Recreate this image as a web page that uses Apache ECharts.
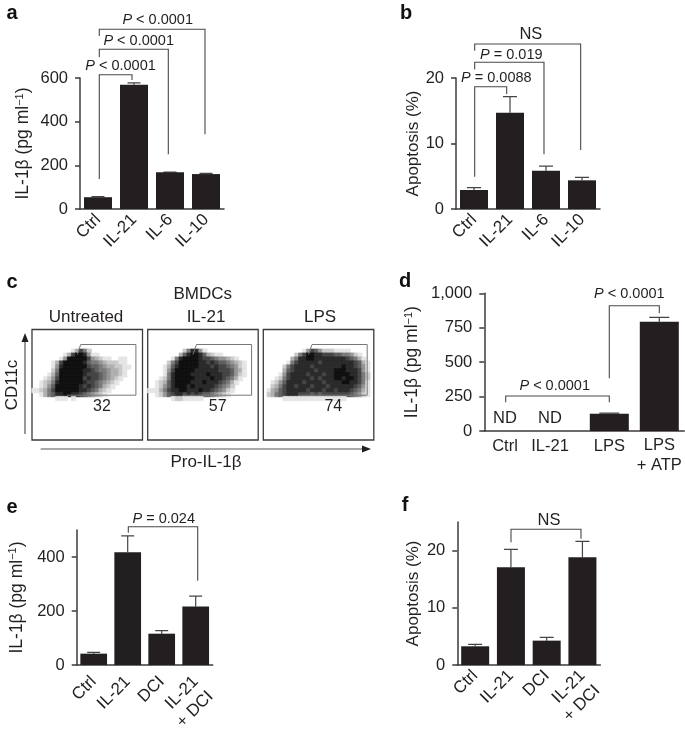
<!DOCTYPE html>
<html>
<head>
<meta charset="utf-8">
<style>
  html, body { margin: 0; padding: 0; background: #fff; }
  #chart { width: 685px; height: 731px; }
</style>
</head>
<body>
<div id="chart"></div>
<script src="https://cdn.jsdelivr.net/npm/echarts@6/dist/echarts.min.js"></script>
<script>
// panel a
const aCategories = ['Ctrl', 'IL-21', 'IL-6', 'IL-10']
const aValues = [54, 569, 168, 160]
const aErrorTops = [57, 578, 169, 163]
// x1, x2, top, left end, right end (x in bands, y in axis units)
const aBrackets = [
  [0.536, 1.444, 615, 137, 591],
  [0.536, 2.453, 732, 695, 251],
  [0.536, 3.472, 823, 792, 342],
]
const aNotes = [
  [1.125, 655, '{i|P} < 0.0001'],
  [1.63, 768, '{i|P} < 0.0001'],
  [2.158, 866, '{i|P} < 0.0001'],
]

// panel b
const bCategories = ['Ctrl', 'IL-21', 'IL-6', 'IL-10']
const bValues = [2.9, 14.7, 5.85, 4.38]
const bErrorTops = [3.25, 17.15, 6.56, 4.84]
const bBrackets = [
  [0.519, 1.408, 18.67, 4.93, 17.56],
  [0.519, 2.444, 22.4, 21.3, 8.35],
  [0.519, 3.463, 25.2, 24.17, 9],
]
const bNotes = [
  [1.12, 20, '{i|P} = 0.0088'],
  [1.536, 23.5, '{i|P} = 0.019'],
  [2.08, 26.67, 'NS'],
]

// panel d
const dCategories = ['Ctrl', 'IL-21', 'LPS', 'LPS + ATP']
const dValues = [0, 0, 126, 794]
const dErrorTops = [0, 0, 130, 825]
const dBrackets = [
  [0.428, 2.5, 254, 208, 208],
  [2.5, 3.5, 910, 383, 855],
]
const dNotes = [
  [1.408, 327, '{i|P} < 0.0001'],
  [2.9, 995, '{i|P} < 0.0001'],
  [0.414, 94, 'ND'],
  [1.314, 94, 'ND'],
  [0.414, -109, 'Ctrl'],
  [1.314, -109, 'IL-21'],
  [2.5, -109, 'LPS'],
  [3.5, -181, 'LPS\n+ ATP'],
]

// panel e
const eCategories = ['Ctrl', 'IL-21', 'DCI', 'IL-21\n+ DCI']
const eValues = [42, 418, 116, 217]
const eErrorTops = [47, 478, 127, 255]
const eBrackets = [[1.518, 3.559, 512, 490, 312]]
const eNotes = [[2.56, 541, '{i|P} = 0.024']]

// panel f
const fCategories = ['Ctrl', 'IL-21', 'DCI', 'IL-21\n+ DCI']
const fValues = [3.27, 17.1, 4.26, 18.84]
const fErrorTops = [3.62, 20.2, 4.84, 21.6]
const fBrackets = [[1.502, 3.46, 23.74, 21.47, 22.05]]
const fNotes = [[2.565, 25.2, 'NS']]

// panel c, dot density, 0 (empty) to 9 (solid)
const untreatedDensity = [
  '0000000000000000000000000000',
  '0000000000137520000000000000',
  '0000000013799841100000000000',
  '0000000149999974321100110000',
  '0000013799999865543222110000',
  '0000014899999976654332211000',
  '0000025999999887655433210000',
  '0000136999999877765433210000',
  '0001247999999787765432100000',
  '0012358999999877654321000000',
  '0012469999998787653210000000',
  '1123579999998876532100000000',
  '0013568899887654321000000000',
  '0000001110100000000000000000',
]
const il21Density = [
  '0000000000000000000000000000',
  '0000000002588410000000000000',
  '0000000036899863211000000000',
  '0000001589999877654432100000',
  '0000025799999887876654321000',
  '0000136899999888787765421000',
  '0000147999998888887776431000',
  '0000158999988889888776421000',
  '0001258999998888988765310000',
  '0012368999988898887653100000',
  '0012468999898888876542000000',
  '1113578899888988765421000000',
  '0012467887878766543210000000',
  '0000001221111100000000000000',
]
const lpsDensity = [
  '0000000000000000000000000000',
  '0000000000147642221111000000',
  '0000000025799887776655421000',
  '0000000358899888888887653100',
  '0000001578888878888888876310',
  '0000025788887888888898876410',
  '0000036788888788889998887410',
  '0000147888878887889999887520',
  '0001257888887878889989987520',
  '0012468888788887888899887510',
  '0023578878887888788888876410',
  '0134678888878887887888765310',
  '0235678887776767777777654210',
  '0000011111111111111110000000',
]
const flowTitles = ['Untreated', 'IL-21', 'LPS']
const flowPercents = ['32', '57', '74']
const gateOutline = [[34.7, 65.7], [103.9, 65.7], [103.9, 15], [48.7, 15], [45.3, 25]]

const FONT = '"Liberation Sans", Arial, sans-serif'
const DARK = '#231f20'
const LINE = '#3c3a3a'

const chart = echarts.init(document.getElementById('chart'))

const grid = []
const xAxis = []
const yAxis = []
const series = []

function noteStyle(text, size) {
  return {
    text: text,
    align: 'center',
    verticalAlign: 'middle',
    fill: DARK,
    font: size + 'px ' + FONT,
    lineHeight: 20,
    rich: { i: { fontStyle: 'italic', fontSize: size, fontFamily: FONT, fill: DARK } },
  }
}

function barPanel(p) {
  const g = grid.length
  // outerBoundsMode none: v6 would otherwise shrink the grid for the long rotated labels
  grid.push({ left: p.left, top: p.top, width: p.width, height: p.height, outerBoundsMode: 'none' })
  const catIndex = xAxis.length
  xAxis.push({
    type: 'category',
    gridIndex: g,
    data: p.categories,
    axisLine: { lineStyle: { color: LINE, width: 1.5 } },
    axisTick: { show: false },
    axisLabel: p.hideLabels ? { show: false } : {
      rotate: 45,
      margin: p.labelMargin,
      interval: 0,
      color: DARK,
      fontFamily: FONT,
      fontSize: 17,
      lineHeight: 21,
      // blank first line keeps the top line of a two line label on the tick
      formatter: (v) => (v.indexOf('\n') >= 0 ? '\n' + v : v),
    },
  })
  xAxis.push({ type: 'value', gridIndex: g, show: false, min: 0, max: p.categories.length })
  const yIndex = yAxis.length
  yAxis.push({
    type: 'value',
    gridIndex: g,
    min: 0,
    max: p.max,
    interval: p.interval,
    name: p.name,
    nameLocation: 'middle',
    nameGap: p.nameGap,
    nameTextStyle: {
      color: DARK,
      fontFamily: FONT,
      fontSize: p.nameSize,
      rich: {
        s: { fontSize: 11, fontFamily: FONT, color: DARK, verticalAlign: 'top', lineHeight: 17 },
      },
    },
    splitLine: { show: false },
    axisLine: { show: true, lineStyle: { color: LINE, width: 1.5 } },
    axisTick: { show: true, length: 5, customValues: p.ticks, lineStyle: { color: LINE, width: 1.5 } },
    axisLabel: {
      margin: 12,
      color: DARK,
      fontFamily: FONT,
      fontSize: 16.5,
      customValues: p.ticks,
      formatter: p.formatter,
    },
  })
  series.push({
    type: 'bar',
    xAxisIndex: catIndex,
    yAxisIndex: yIndex,
    data: p.values,
    barWidth: p.barWidth,
    itemStyle: { color: DARK },
  })
  // error bars, only the upper whisker is drawn
  series.push({
    type: 'custom',
    xAxisIndex: catIndex + 1,
    yAxisIndex: yIndex,
    silent: true,
    data: p.values.map((v, i) => [i + 0.5, v, p.errorTops[i]]),
    renderItem(params, api) {
      if (api.value(1) === 0) return null
      const base = api.coord([api.value(0), api.value(1)])
      const top = api.coord([api.value(0), api.value(2)])
      const cap = p.capWidth / 2
      return {
        type: 'polyline',
        shape: { points: [[top[0] - cap, top[1]], [top[0] + cap, top[1]], [top[0], top[1]], base] },
        style: { stroke: '#444', lineWidth: 1.2, fill: null },
      }
    },
  })
  series.push({
    type: 'custom',
    xAxisIndex: catIndex + 1,
    yAxisIndex: yIndex,
    silent: true,
    data: p.brackets,
    renderItem(params, api) {
      const pts = [
        api.coord([api.value(0), api.value(3)]),
        api.coord([api.value(0), api.value(2)]),
        api.coord([api.value(1), api.value(2)]),
        api.coord([api.value(1), api.value(4)]),
      ]
      return {
        type: 'polyline',
        shape: { points: pts },
        style: { stroke: '#4a4848', lineWidth: 1.1, fill: null },
      }
    },
  })
  series.push({
    type: 'custom',
    xAxisIndex: catIndex + 1,
    yAxisIndex: yIndex,
    silent: true,
    z: 5,
    data: p.notes.map((n) => [n[0], n[1]]),
    renderItem(params, api) {
      const c = api.coord([api.value(0), api.value(1)])
      const text = p.notes[params.dataIndex][2]
      const big = text.indexOf('{i|') < 0
      return {
        type: 'text',
        x: c[0],
        y: c[1],
        style: noteStyle(text, big ? 16.5 : 14.5),
      }
    },
  })
}

function flowPanel(left, density, percent) {
  const g = grid.length
  grid.push({
    left: left,
    top: 329.5,
    width: 110.5,
    height: 110.5,
    show: true,
    borderColor: LINE,
    borderWidth: 1.3,
    backgroundColor: 'transparent',
    outerBoundsMode: 'none',
  })
  const cols = Array.from({ length: 28 }, (_, i) => i)
  const catIndex = xAxis.length
  xAxis.push({ type: 'category', gridIndex: g, show: false, data: cols })
  xAxis.push({ type: 'value', gridIndex: g, show: false, min: 0, max: 110.5 })
  const yIndex = yAxis.length
  yAxis.push({ type: 'category', gridIndex: g, show: false, inverse: true, data: cols })
  yAxis.push({ type: 'value', gridIndex: g, show: false, inverse: true, min: 0, max: 110.5 })
  const cells = []
  density.forEach((row, r) => {
    row.split('').forEach((d, c) => {
      if (d !== '0') {
        const shade = Math.round(255 - (Number(d) / 9) * 238)
        const color = 'rgb(' + shade + ',' + shade + ',' + shade + ')'
        cells.push({
          value: [c, r + 4, Number(d)],
          itemStyle: { color: color, borderColor: color, borderWidth: 0.6 },
        })
      }
    })
  })
  series.push({
    type: 'heatmap',
    xAxisIndex: catIndex,
    yAxisIndex: yIndex,
    silent: true,
    data: cells,
  })
  series.push({
    type: 'line',
    xAxisIndex: catIndex + 1,
    yAxisIndex: yIndex + 1,
    silent: true,
    symbol: 'none',
    z: 4,
    data: gateOutline,
    lineStyle: { color: '#777', width: 1 },
  })
  series.push({
    type: 'custom',
    xAxisIndex: catIndex + 1,
    yAxisIndex: yIndex + 1,
    silent: true,
    data: [[70, 77.3]],
    renderItem(params, api) {
      const c = api.coord([api.value(0), api.value(1)])
      return { type: 'text', x: c[0], y: c[1], style: noteStyle(percent, 16) }
    },
  })
}

barPanel({
  left: 80, top: 78, width: 144, height: 131, barWidth: 28, capWidth: 13, nameGap: 48, nameSize: 17.5, labelMargin: 8,
  categories: aCategories, values: aValues, errorTops: aErrorTops, brackets: aBrackets, notes: aNotes,
  max: 600, interval: 200, name: 'IL-1β (pg ml{s|−1})',
})
barPanel({
  left: 456, top: 78, width: 144, height: 131, barWidth: 28, capWidth: 14, nameGap: 34, nameSize: 17, labelMargin: 8,
  categories: bCategories, values: bValues, errorTops: bErrorTops, brackets: bBrackets, notes: bNotes,
  max: 20, interval: 10, name: 'Apoptosis (%)',
})
barPanel({
  left: 484.3, top: 293.3, width: 200, height: 137.7, barWidth: 39, capWidth: 20, nameGap: 63, nameSize: 17.5,
  categories: dCategories, values: dValues, errorTops: dErrorTops, brackets: dBrackets, notes: dNotes,
  max: 1000, interval: 250, name: 'IL-1β (pg ml{s|−1})', hideLabels: true,
  formatter: (v) => (v === 1000 ? '1,000' : String(v)),
})
barPanel({
  left: 76.7, top: 530, width: 136, height: 135, barWidth: 26.7, capWidth: 13, nameGap: 51, nameSize: 17.5, labelMargin: 14,
  categories: eCategories, values: eValues, errorTops: eErrorTops, brackets: eBrackets, notes: eNotes,
  max: 500, interval: 100, ticks: [0, 200, 400], name: 'IL-1β (pg ml{s|−1})',
})
barPanel({
  left: 457.3, top: 522, width: 143, height: 143, barWidth: 28, capWidth: 14, nameGap: 35, nameSize: 17, labelMargin: 8,
  categories: fCategories, values: fValues, errorTops: fErrorTops, brackets: fBrackets, notes: fNotes,
  max: 25, interval: 5, ticks: [0, 10, 20], name: 'Apoptosis (%)',
})
flowPanel(32, untreatedDensity, flowPercents[0])
flowPanel(147.7, il21Density, flowPercents[1])
flowPanel(263.3, lpsDensity, flowPercents[2])

function label(text, x, y, size, extra) {
  return {
    type: 'text',
    x: x,
    y: y,
    z: 10,
    silent: true,
    ...extra,
    style: {
      text: text,
      fill: DARK,
      font: size + 'px ' + FONT,
      align: 'center',
      verticalAlign: 'middle',
    },
  }
}

function arrowLine(x1, y1, x2, y2) {
  return { type: 'line', silent: true, shape: { x1, y1, x2, y2 }, style: { stroke: '#555', lineWidth: 1.2 } }
}

const graphics = [
  label('BMDCs', 202.7, 294, 17),
  label(flowTitles[0], 86, 317, 17),
  label(flowTitles[1], 206, 317, 17),
  label(flowTitles[2], 320, 317, 17),
  label('Pro-IL-1β', 206, 462, 17),
  label('CD11c', 12.7, 385, 17, { rotation: Math.PI / 2 }),
  arrowLine(25, 434, 25, 338),
  { type: 'polygon', silent: true, shape: { points: [[25, 333], [21.5, 342], [28.5, 342]] }, style: { fill: DARK } },
  arrowLine(40.7, 449, 365, 449),
  { type: 'polygon', silent: true, shape: { points: [[371, 449], [362, 445.5], [362, 452.5]] }, style: { fill: DARK } },
]
const panelLetters = [['a', 12, 13], ['b', 406, 13], ['c', 12, 282], ['d', 405, 281], ['e', 12, 507], ['f', 405, 505]]
panelLetters.forEach((l) => {
  graphics.push({
    type: 'text',
    x: l[1],
    y: l[2],
    silent: true,
    style: { text: l[0], fill: '#111', font: 'bold 20px ' + FONT, align: 'center', verticalAlign: 'middle' },
  })
})

chart.setOption({
  animation: false,
  backgroundColor: '#fff',
  grid,
  xAxis,
  yAxis,
  series,
  graphic: graphics,
})
</script>
</body>
</html>
